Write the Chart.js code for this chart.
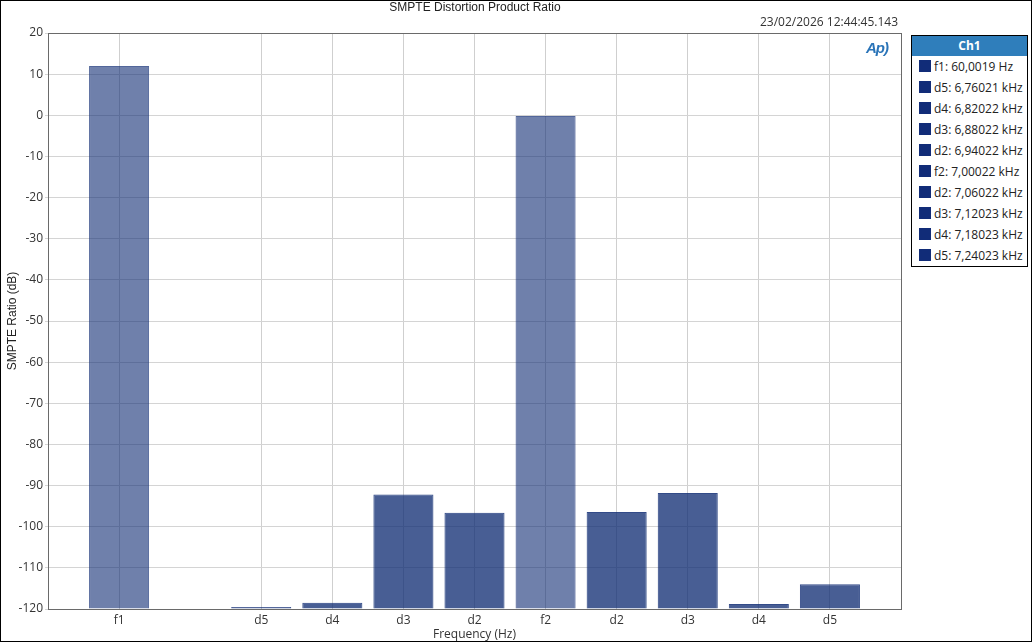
<!DOCTYPE html>
<html>
<head>
<meta charset="utf-8">
<script src="https://cdn.jsdelivr.net/npm/chart.js@4/dist/chart.umd.min.js"></script>
<style>
  html, body { margin:0; padding:0; background:#fff; }
  #wrap { position:relative; width:1032px; height:642px; overflow:hidden; }
  #frame { position:absolute; left:0; top:0; width:1030px; height:640px; border:1px solid #000; pointer-events:none; }
  canvas { position:absolute; left:0; top:0; }
  .txt { position:absolute; white-space:nowrap; }
  #title { left:0; width:950px; top:0; text-align:center; font:12px "Liberation Sans", Arial, sans-serif; color:#222; }
  #stamp { right:134px; top:13px; font:12px "Open Sans", "Noto Sans", sans-serif; color:#333; }
  #logo { left:866px; top:39px; font:italic bold 15px "Liberation Sans", Arial, sans-serif; color:#2a74b8; letter-spacing:-1px; }
  #legend { position:absolute; left:911px; top:35px; width:115px; height:230px; border:1px solid #000; background:#fff; }
  #legend .hdr { height:20px; background:#2f7ebb; color:#fff; font:bold 12px "Open Sans", "Noto Sans", sans-serif; text-align:center; line-height:20px; }
  #legend .row { height:21px; position:relative; font:12px "Open Sans", "Noto Sans", sans-serif; color:#222; line-height:21px; }
  #legend .sw { position:absolute; left:7px; top:4px; width:12px; height:12px; background:#112c78; }
  #legend .lb { position:absolute; left:22px; top:0; }
</style>
</head>
<body>
<div id="wrap">
  <canvas id="c" width="1032" height="642"></canvas>
  <div id="title" class="txt">SMPTE Distortion Product Ratio</div>
  <div id="stamp" class="txt">23/02/2026 12:44:45.143</div>
  <div id="logo" class="txt">Ap)</div>
  <div id="legend"><div class="hdr">Ch1</div></div>
  <div id="frame"></div>
</div>
<script>
// ---- data ----
const categories = ['', 'f1', '', 'd5', 'd4', 'd3', 'd2', 'f2', 'd2', 'd3', 'd4', 'd5', ''];
const ratioDb = [null, 12.0, null, -119.5, -118.5, -92.2, -96.6, -0.2, -96.4, -91.8, -118.8, -114.0, null];
const legendLabels = ['f1: 60,0019 Hz', 'd5: 6,76021 kHz', 'd4: 6,82022 kHz', 'd3: 6,88022 kHz', 'd2: 6,94022 kHz',
  'f2: 7,00022 kHz', 'd2: 7,06022 kHz', 'd3: 7,12023 kHz', 'd4: 7,18023 kHz', 'd5: 7,24023 kHz'];
const yTicks = [20, 10, 0, -10, -20, -30, -40, -50, -60, -70, -80, -90, -100, -110, -120];

// legend
const lg = document.getElementById('legend');
legendLabels.forEach(t => {
  const r = document.createElement('div'); r.className = 'row';
  r.innerHTML = '<span class="sw"></span><span class="lb"></span>';
  r.querySelector('.lb').textContent = t;
  lg.appendChild(r);
});

const fundColor = 'rgba(15,43,115,0.60)';
const prodColor = 'rgba(15,43,115,0.76)';
const bg = categories.map(c => c.startsWith('f') ? fundColor : prodColor);
const bd = categories.map(c => c.startsWith('f') ? 'rgba(15,43,115,0.72)' : 'rgba(15,43,115,0.85)');

const frame = {
  id: 'frame',
  afterDatasetsDraw(chart) {
    const a = chart.chartArea, ctx = chart.ctx;
    ctx.save();
    ctx.strokeStyle = '#6a6a6a'; ctx.lineWidth = 1;
    ctx.strokeRect(Math.round(a.left) + 0.5, Math.round(a.top) + 0.5, Math.round(a.right - a.left), Math.round(a.bottom - a.top));
    ctx.restore();
  }
};

new Chart(document.getElementById('c'), {
  type: 'bar',
  data: {
    labels: categories,
    datasets: [{
      data: ratioDb,
      base: -120,
      backgroundColor: bg,
      borderColor: bd,
      borderWidth: 1,
      borderSkipped: 'bottom',
      categoryPercentage: 1,
      barPercentage: 0.845
    }]
  },
  plugins: [frame],
  options: {
    responsive: false,
    animation: false,
    devicePixelRatio: 1,
    layout: { padding: { left: 0, top: 33, right: 131, bottom: 0 } },
    plugins: { legend: { display: false }, tooltip: { enabled: false }, title: { display: false } },
    scales: {
      x: {
        type: 'category',
        offset: false,
        grid: {
          offset: false,
          color: ctx => (ctx.tick && categories[ctx.index] !== '') ? '#cfcfcf' : 'rgba(0,0,0,0)',
          drawTicks: false
        },
        border: { display: false },
        ticks: { autoSkip: false, maxRotation: 0, padding: 4, color: '#333', font: { family: '"Open Sans", "Noto Sans", sans-serif', size: 12 } },
        title: { display: true, text: 'Frequency (Hz)', color: '#333', padding: { top: -4, bottom: 0 }, font: { family: '"Open Sans", "Noto Sans", sans-serif', size: 12 } },
        afterFit(s) { s.height = 33; }
      },
      y: {
        min: -120, max: 20,
        afterBuildTicks(s) { s.ticks = yTicks.map(v => ({ value: v })); },
        grid: { color: '#d4d4d4', drawTicks: true, tickLength: 3 },
        border: { display: false },
        ticks: { padding: 2, color: '#333', font: { family: '"Open Sans", "Noto Sans", sans-serif', size: 12 } },
        title: { display: true, text: 'SMPTE Ratio (dB)', color: '#222', padding: { top: 5, bottom: 0 }, font: { family: '"Liberation Sans", Arial, sans-serif', size: 12 } },
        afterFit(s) { s.width = 48; }
      }
    }
  }
});
</script>
</body>
</html>
